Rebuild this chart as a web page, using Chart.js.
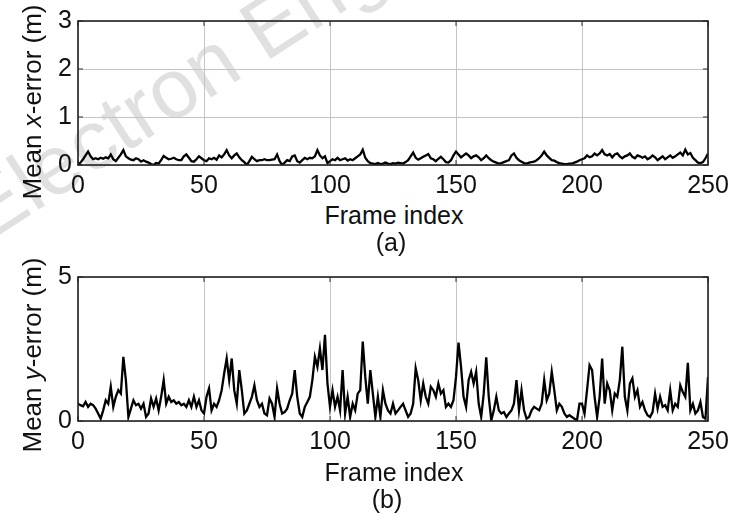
<!DOCTYPE html>
<html>
<head>
<meta charset="utf-8">
<script src="https://cdn.jsdelivr.net/npm/chart.js@4.4.1/dist/chart.umd.min.js"></script>
<style>
  body { margin: 0; background: #fff; width: 744px; height: 517px; overflow: hidden; position: relative;
         font-family: "Liberation Sans", Arial, sans-serif; color: #111; }
  canvas { position: absolute; left: 0; }
  .lbl { position: absolute; white-space: nowrap; font-size: 25px; line-height: 1; }
  .ylab { transform: translate(-50%, -50%) rotate(-90deg); font-size: 26px; }
  .ctr { transform: translate(-50%, -50%); }
  #wm { position: absolute; left: -6px; top: 170px; font-size: 84px; line-height: 1; color: #e0e0e0;
        white-space: nowrap; transform-origin: 0 100%; transform: rotate(-33deg); }
</style>
</head>
<body>
<div id="wm">Electron Eng</div>
<canvas id="cx" width="744" height="200" style="top:0"></canvas>
<canvas id="cy" width="744" height="230" style="top:240px"></canvas>
<div class="lbl ylab" style="left:32px; top:102px">Mean <i>x</i>-error (m)</div>
<div class="lbl ylab" style="left:32px; top:355px">Mean <i>y</i>-error (m)</div>
<div class="lbl ctr" style="left:394px; top:215px">Frame index</div>
<div class="lbl ctr" style="left:391px; top:242px">(a)</div>
<div class="lbl ctr" style="left:394px; top:472px">Frame index</div>
<div class="lbl ctr" style="left:387px; top:499px">(b)</div>
<script>
// ── datos ─────────────────────────────────────────────
const FRAMES = Array.from({ length: 251 }, function (_, i) { return i; });
const X_TICKS = [0, 50, 100, 150, 200, 250];
const XERR_TICKS = [0, 1, 2, 3];
const YERR_TICKS = [0, 5];

// (a) Mean x-error (m), frames 0..250
const XERR = [
  0.00, 0.05, 0.12, 0.20, 0.28, 0.18, 0.12, 0.14, 0.12, 0.15,
  0.13, 0.16, 0.14, 0.22, 0.12, 0.08, 0.15, 0.22, 0.31, 0.18,
  0.14, 0.11, 0.10, 0.14, 0.12, 0.07, 0.10, 0.07, 0.05, 0.02,
  0.00, 0.04, 0.03, 0.10, 0.19, 0.15, 0.12, 0.13, 0.15, 0.12,
  0.10, 0.10, 0.18, 0.22, 0.15, 0.08, 0.07, 0.12, 0.18, 0.14,
  0.10, 0.08, 0.14, 0.12, 0.15, 0.11, 0.20, 0.16, 0.22, 0.31,
  0.20, 0.14, 0.20, 0.24, 0.16, 0.10, 0.06, 0.00, 0.08, 0.17,
  0.12, 0.08, 0.10, 0.10, 0.12, 0.10, 0.10, 0.11, 0.12, 0.22,
  0.08, 0.00, 0.05, 0.10, 0.08, 0.18, 0.20, 0.08, 0.05, 0.10,
  0.15, 0.12, 0.15, 0.14, 0.18, 0.31, 0.20, 0.14, 0.18, 0.04,
  0.08, 0.12, 0.10, 0.15, 0.10, 0.12, 0.14, 0.09, 0.12, 0.10,
  0.14, 0.18, 0.22, 0.32, 0.15, 0.08, 0.04, 0.03, 0.02, 0.04,
  0.02, 0.03, 0.05, 0.03, 0.02, 0.04, 0.03, 0.05, 0.04, 0.03,
  0.06, 0.10, 0.18, 0.26, 0.15, 0.11, 0.14, 0.17, 0.20, 0.23,
  0.14, 0.12, 0.08, 0.13, 0.17, 0.12, 0.06, 0.05, 0.10, 0.20,
  0.28, 0.22, 0.16, 0.20, 0.24, 0.20, 0.14, 0.18, 0.20, 0.16,
  0.10, 0.14, 0.20, 0.14, 0.10, 0.07, 0.05, 0.03, 0.04, 0.06,
  0.08, 0.10, 0.20, 0.24, 0.15, 0.10, 0.07, 0.04, 0.03, 0.05,
  0.06, 0.07, 0.10, 0.14, 0.20, 0.28, 0.20, 0.15, 0.10, 0.09,
  0.06, 0.04, 0.03, 0.02, 0.02, 0.03, 0.03, 0.05, 0.07, 0.10,
  0.12, 0.14, 0.20, 0.16, 0.18, 0.24, 0.20, 0.24, 0.31, 0.22,
  0.20, 0.23, 0.16, 0.22, 0.24, 0.18, 0.14, 0.18, 0.20, 0.24,
  0.17, 0.14, 0.20, 0.18, 0.15, 0.18, 0.12, 0.15, 0.20, 0.16,
  0.10, 0.14, 0.18, 0.12, 0.16, 0.20, 0.15, 0.18, 0.22, 0.26,
  0.20, 0.32, 0.22, 0.25, 0.15, 0.10, 0.05, 0.04, 0.06, 0.14,
  0.24
];

// (b) Mean y-error (m), frames 0..250
const YERR = [
  0.60, 0.55, 0.51, 0.66, 0.49, 0.60, 0.55, 0.43, 0.26, 0.08,
  0.37, 0.72, 0.60, 1.19, 0.49, 0.84, 1.07, 0.95, 2.23, 1.42,
  0.14, 0.43, 0.72, 0.55, 0.60, 0.43, 0.60, 0.14, 0.26, 0.78,
  0.49, 0.78, 0.37, 0.84, 1.42, 0.60, 0.84, 0.66, 0.72, 0.60,
  0.66, 0.55, 0.60, 0.49, 0.72, 0.49, 0.84, 0.49, 0.72, 0.37,
  0.26, 0.84, 1.13, 0.37, 0.60, 0.49, 0.72, 1.07, 1.65, 2.17,
  1.42, 2.17, 1.07, 0.60, 1.77, 1.07, 0.26, 0.37, 0.60, 0.84,
  1.24, 0.72, 0.49, 0.60, 0.26, 0.20, 0.78, 0.60, 0.14, 1.13,
  0.60, 0.26, 0.31, 0.43, 0.72, 0.95, 1.77, 0.84, 0.26, 0.14,
  0.49, 0.66, 0.84, 1.42, 2.23, 1.88, 2.52, 1.77, 2.99, 1.30,
  0.49, 1.07, 0.49, 0.84, 0.37, 1.77, 0.26, 0.84, 0.14, 0.60,
  0.37, 0.95, 1.07, 2.76, 1.53, 0.60, 1.77, 0.95, 0.14, 0.84,
  0.14, 1.07, 0.60, 0.37, 0.26, 0.60, 0.26, 0.37, 0.49, 0.60,
  0.37, 0.14, 0.26, 0.60, 1.83, 1.42, 0.72, 1.30, 0.84, 0.60,
  1.19, 1.07, 0.84, 1.30, 0.95, 1.07, 0.49, 0.60, 0.49, 0.72,
  1.53, 2.72, 1.88, 0.84, 0.49, 1.42, 1.71, 1.30, 1.71, 0.60,
  0.14, 0.95, 2.21, 0.84, 0.02, 0.37, 0.84, 0.37, 0.26, 0.31,
  0.14, 0.26, 0.37, 0.60, 1.42, 0.37, 1.07, 0.37, 0.08, 0.14,
  0.37, 0.49, 0.43, 0.37, 0.60, 1.42, 0.72, 0.95, 1.71, 1.07,
  0.37, 0.60, 0.49, 0.26, 0.14, 0.20, 0.14, 0.08, 0.02, 0.60,
  0.60, 0.26, 1.07, 1.94, 1.77, 0.84, 0.14, 0.84, 2.17, 0.60,
  1.30, 1.07, 0.37, 0.95, 0.84, 1.42, 2.58, 0.84, 0.37, 1.30,
  1.48, 0.84, 1.07, 0.49, 0.66, 0.37, 0.20, 0.14, 0.31, 0.95,
  0.43, 0.84, 0.49, 0.55, 0.37, 1.07, 0.37, 0.60, 0.49, 1.24,
  1.01, 0.84, 2.02, 0.37, 0.60, 0.26, 0.37, 0.66, 0.14, 0.08,
  1.53
];

// ── estilo ────────────────────────────────────────────
const FONT = { family: '"Liberation Sans", Arial, sans-serif', size: 25 };
const GRID = "#c4c4c4";

// caja completa + marcas de tick hacia dentro (estilo MATLAB)
const boxPlugin = {
  id: "box",
  afterDraw: function (chart) {
    const a = chart.chartArea, ctx = chart.ctx;
    ctx.save();
    ctx.strokeStyle = "#333";
    ctx.lineWidth = 1;
    const xs = chart.scales.x, ys = chart.scales.y;
    ctx.beginPath();
    xs.ticks.forEach(function (t) {
      const px = xs.getPixelForValue(t.value);
      ctx.moveTo(px, a.top); ctx.lineTo(px, a.top + 5);
      ctx.moveTo(px, a.bottom); ctx.lineTo(px, a.bottom - 5);
    });
    ys.ticks.forEach(function (t) {
      const py = ys.getPixelForValue(t.value);
      ctx.moveTo(a.left, py); ctx.lineTo(a.left + 5, py);
      ctx.moveTo(a.right, py); ctx.lineTo(a.right - 5, py);
    });
    ctx.stroke();
    ctx.strokeStyle = "#222";
    ctx.lineWidth = 1.6;
    ctx.strokeRect(a.left, a.top, a.right - a.left, a.bottom - a.top);
    ctx.restore();
  }
};

function makeChart(id, values, yTicks, padTop, xAxisH) {
  const pts = values.map(function (v, i) { return { x: FRAMES[i], y: v }; });
  return new Chart(document.getElementById(id), {
    type: "line",
    data: {
      datasets: [{
        data: pts,
        borderColor: "#000",
        borderWidth: 2.3,
        pointRadius: 0,
        tension: 0,
        fill: false,
      }],
    },
    options: {
      responsive: false,
      animation: false,
      layout: { padding: { top: padTop, right: 36, left: 0, bottom: 0 } },
      plugins: { legend: { display: false }, tooltip: { enabled: false } },
      scales: {
        x: {
          type: "linear",
          min: X_TICKS[0],
          max: X_TICKS[X_TICKS.length - 1],
          afterBuildTicks: function (s) { s.ticks = X_TICKS.map(function (v) { return { value: v }; }); },
          afterFit: function (s) { s.height = xAxisH; },
          grid: { color: GRID, drawTicks: false },
          border: { display: false },
          ticks: { color: "#111", font: FONT, padding: 6, maxRotation: 0 },
        },
        y: {
          type: "linear",
          min: yTicks[0],
          max: yTicks[yTicks.length - 1],
          afterBuildTicks: function (s) { s.ticks = yTicks.map(function (v) { return { value: v }; }); },
          afterFit: function (s) { s.width = 78; },
          grid: { color: GRID, drawTicks: false },
          border: { display: false },
          ticks: { color: "#111", font: FONT, padding: 6 },
        },
      },
    },
    plugins: [boxPlugin],
  });
}

makeChart("cx", XERR, XERR_TICKS, 20, 35);
makeChart("cy", YERR, YERR_TICKS, 37, 49);
</script>
</body>
</html>
